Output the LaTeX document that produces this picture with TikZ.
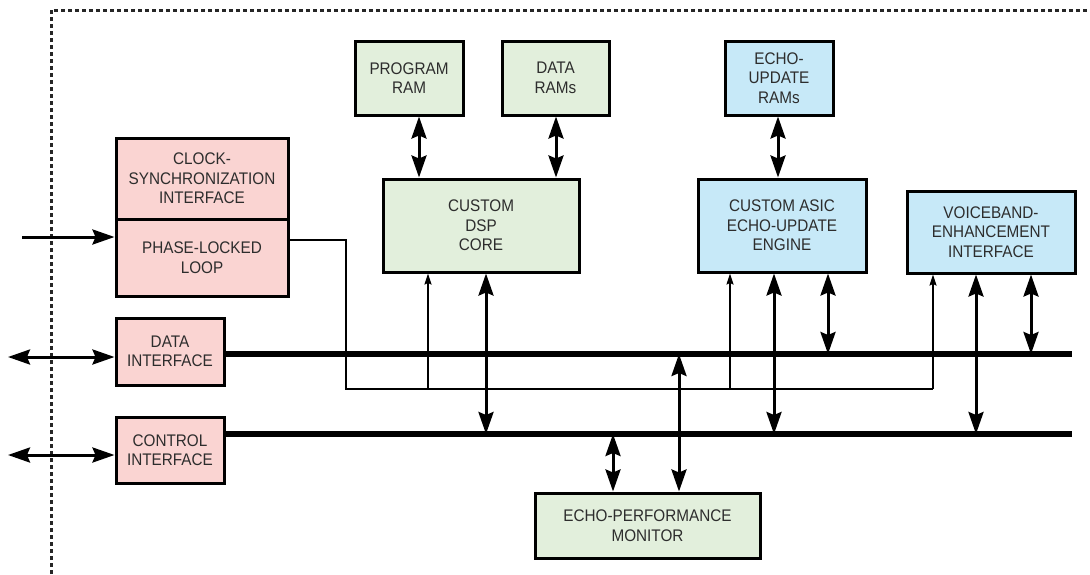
\documentclass[tikz,border=0pt]{standalone}
\usepackage{fontspec}
\setmainfont{Liberation Sans}[FakeStretch=0.91]
\usetikzlibrary{arrows.meta}

\definecolor{pinkbox}{RGB}{250,212,210}
\definecolor{greenbox}{RGB}{226,239,220}
\definecolor{bluebox}{RGB}{199,233,248}
\definecolor{inktext}{RGB}{45,45,45}

\tikzset{
  blok/.style={draw=black,line width=3pt,text=inktext,align=center,inner sep=0pt,
    font=\fontsize{16.8}{19.5}\selectfont},
  bus/.style={line width=5.5pt},
  wire/.style={line width=1.5pt},
  bidir/.style={line width=3pt,
    {Stealth[length=22pt,width=15pt,inset=3pt]}-{Stealth[length=22pt,width=15pt,inset=3pt]}},
  onedir/.style={line width=3pt,-{Stealth[length=22pt,width=15pt,inset=3pt]}},
  tapin/.style={line width=1.5pt,-{Stealth[length=11pt,width=7pt,inset=1.5pt]}},
  frame/.style={draw=black!85,line width=3pt,dash pattern=on 4pt off 3pt}
}

\begin{document}
\begin{tikzpicture}[x=1pt,y=-1pt]

  \useasboundingbox (0,0) rectangle (1090,574);

  \begin{scope}   % hranice cipu
    \draw[frame] (51,574)--(51,10)--(1090,10);
  \end{scope}

  \begin{scope}   % bloky

    \node[blok,fill=pinkbox,minimum width=172pt,minimum height=81pt] (clk) at (202,178.5)
         {CLOCK-\\SYNCHRONIZATION\\INTERFACE};
    \node[blok,fill=pinkbox,minimum width=172pt,minimum height=77pt] (pll) at (202,257.5)
         {PHASE-LOCKED\\LOOP};
    \node[blok,fill=pinkbox,minimum width=108pt,minimum height=67pt] (dif) at (170,351.5)
         {DATA\\INTERFACE};
    \node[blok,fill=pinkbox,minimum width=108pt,minimum height=66pt] (cif) at (170,450)
         {CONTROL\\INTERFACE};

    \node[blok,fill=greenbox,minimum width=108pt,minimum height=74pt] (pram) at (409,78)
         {PROGRAM\\RAM};
    \node[blok,fill=greenbox,minimum width=107pt,minimum height=74pt] (dram) at (555.5,78)
         {DATA\\RAMs};
    \node[blok,fill=greenbox,minimum width=196pt,minimum height=93pt] (dsp) at (481,225.5)
         {CUSTOM\\DSP\\CORE};
    \node[blok,fill=greenbox,minimum width=225pt,minimum height=65pt] (epm) at (647.5,525.5)
         {ECHO-PERFORMANCE\\MONITOR};

    \node[blok,fill=bluebox,minimum width=108pt,minimum height=74pt] (eram) at (779,78)
         {ECHO-\\UPDATE\\RAMs};
    \node[blok,fill=bluebox,minimum width=168pt,minimum height=93pt] (asic) at (782,225.5)
         {CUSTOM ASIC\\ECHO-UPDATE\\ENGINE};
    \node[blok,fill=bluebox,minimum width=168pt,minimum height=82pt] (vbe) at (991,232)
         {VOICEBAND-\\ENHANCEMENT\\INTERFACE};

  \end{scope}

  \begin{scope}   % sbernice a hodiny

    \coordinate (dbus) at (1072,354);
    \coordinate (cbus) at (1072,434);
    \draw[bus] (dif.east |- dbus)--(dbus);
    \draw[bus] (cif.east |- cbus)--(cbus);

    \coordinate (clkin) at (22,237);
    \coordinate (datin) at (8,357);
    \coordinate (ctlin) at (8,455);
    \draw[onedir] (clkin)--(clkin -| pll.west);
    \draw[bidir] (datin)--(datin -| dif.west);
    \draw[bidir] (ctlin)--(ctlin -| cif.west);

    \coordinate (pllout) at ([yshift=17.5pt]pll.east);
    \coordinate (wbend) at (346,389);
    \coordinate (tDSPin) at (428,0);
    \coordinate (tASin) at (730,0);
    \coordinate (tVBin) at (933,0);
    \draw[wire] (pllout)-|(wbend)-|(tVBin |- wbend);
    \draw[tapin] (tDSPin |- wbend)--(dsp.south -| tDSPin);
    \draw[tapin] (tASin |- wbend)--(asic.south -| tASin);
    \draw[tapin] (tVBin |- wbend)--(vbe.south -| tVBin);

  \end{scope}

  \begin{scope}   % datove cesty

    \coordinate (tPR) at (419,0);
    \coordinate (tDR) at (556,0);
    \coordinate (tER) at (778,0);
    \draw[bidir] (pram.south -| tPR)--(dsp.north -| tPR);
    \draw[bidir] (dram.south -| tDR)--(dsp.north -| tDR);
    \draw[bidir] (eram.south -| tER)--(asic.north -| tER);

    \coordinate (tDSPc) at (486,0);
    \coordinate (tASc) at (774,0);
    \coordinate (tASd) at (828,0);
    \coordinate (tVBc) at (976,0);
    \coordinate (tVBd) at (1031,0);
    \draw[bidir] (dsp.south -| tDSPc)--(cbus -| tDSPc);
    \draw[bidir] (asic.south -| tASc)--(cbus -| tASc);
    \draw[bidir] (asic.south -| tASd)--(dbus -| tASd);
    \draw[bidir] (vbe.south -| tVBc)--(cbus -| tVBc);
    \draw[bidir] (vbe.south -| tVBd)--(dbus -| tVBd);

    \coordinate (tEPc) at (613,0);
    \coordinate (tEPd) at (679,0);
    \draw[bidir] (epm.north -| tEPc)--(cbus -| tEPc);
    \draw[bidir] (epm.north -| tEPd)--(dbus -| tEPd);

  \end{scope}

\end{tikzpicture}
\end{document}
